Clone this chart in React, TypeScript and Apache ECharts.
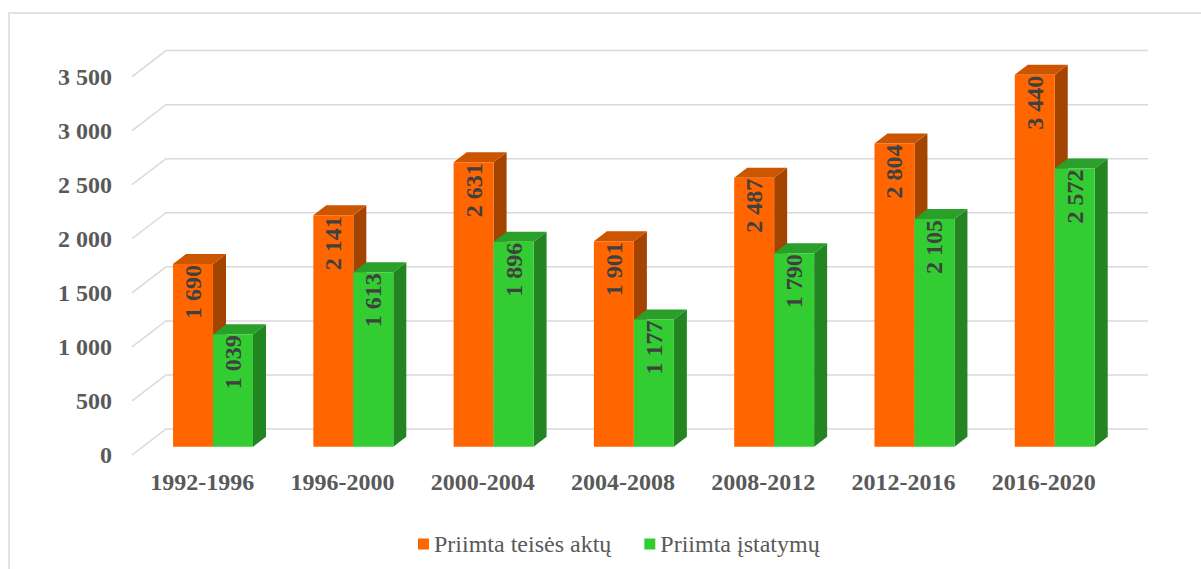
import React, { useEffect, useRef } from "react";
import * as echarts from "echarts";

const categories = ["1992-1996", "1996-2000", "2000-2004", "2004-2008", "2008-2012", "2012-2016", "2016-2020"];
const aktuValues = [1690, 2141, 2631, 1901, 2487, 2804, 3440];
const istatymuValues = [1039, 1613, 1896, 1177, 1790, 2105, 2572];
const yTicks = [0, 500, 1000, 1500, 2000, 2500, 3000, 3500];
const seriesNames = ["Priimta teisės aktų", "Priimta įstatymų"];

const WALL_DX = 34;
const WALL_DY = -26;
const BAR_T = 0.32;
const BAR_DX = 13;
const BAR_DY = -10;
const SERIF = "Times New Roman, Liberation Serif, Tinos, serif";

const fmt = (v: number) => String(v).replace(/\B(?=(\d{3})+(?!\d))/g, " ");

const palettes = [
  { front: "#FF6600", top: "#CC5500", side: "#A34500" },
  { front: "#33CC33", top: "#2A9F2A", side: "#228522" },
];

function makeBarRender(which: number) {
  return (params: any, api: any) => {
    const idx = api.value(0);
    const v = api.value(1);
    const base = api.coord([idx, 0]);
    const top = api.coord([idx, v]);
    const band = api.size([1, 0])[0];
    const bw = band * 0.285;
    const sx = WALL_DX * BAR_T;
    const sy = WALL_DY * BAR_T;
    const x0 = base[0] + sx + (which === 0 ? -bw : 0);
    const yb = base[1] + sy;
    const yt = top[1] + sy;
    const p = palettes[which];
    return {
      type: "group",
      children: [
        {
          type: "polygon",
          shape: { points: [[x0 + bw, yt], [x0 + bw + BAR_DX, yt + BAR_DY], [x0 + bw + BAR_DX, yb + BAR_DY], [x0 + bw, yb]] },
          style: { fill: p.side },
        },
        {
          type: "polygon",
          shape: { points: [[x0, yt], [x0 + BAR_DX, yt + BAR_DY], [x0 + bw + BAR_DX, yt + BAR_DY], [x0 + bw, yt]] },
          style: { fill: p.top },
        },
        {
          type: "rect",
          shape: { x: x0, y: yt, width: bw, height: yb - yt },
          style: { fill: p.front },
        },
        {
          type: "text",
          x: x0 + bw / 2,
          y: yt + 1,
          rotation: Math.PI / 2,
          style: {
            text: fmt(v),
            fill: "#404040",
            fontFamily: SERIF,
            fontWeight: "bold",
            fontSize: 24,
            align: "right",
            verticalAlign: "middle",
          },
        },
      ],
    };
  };
}

function gridRender(params: any, api: any) {
  const v = api.value(0);
  const cs = params.coordSys;
  const y = api.coord([0, v])[1];
  return {
    type: "polyline",
    shape: {
      points: [
        [cs.x, y],
        [cs.x + WALL_DX, y + WALL_DY],
        [cs.x + cs.width + WALL_DX, y + WALL_DY],
      ],
    },
    style: { stroke: "#D9D9D9", lineWidth: 1.5, fill: "none" },
  };
}

export default function App() {
  const ref = useRef<HTMLDivElement>(null);
  useEffect(() => {
    if (!ref.current) return;
    const chart = echarts.init(ref.current, null, { renderer: "svg" });
    chart.setOption({
      animation: false,
      backgroundColor: "#FFFFFF",
      textStyle: { fontFamily: SERIF },
      graphic: [
        {
          type: "rect",
          shape: { x: 9, y: 13, width: 1300, height: 700 },
          style: { fill: "none", stroke: "#D9D9D9", lineWidth: 1.5 },
          z: 0,
        },
      ],
      grid: { left: 132, right: 87, top: 76.6, bottom: 114 },
      xAxis: {
        type: "category",
        data: categories,
        axisLine: { show: false },
        axisTick: { show: false },
        axisLabel: { color: "#595959", fontFamily: SERIF, fontWeight: "bold", fontSize: 24, margin: 15 },
      },
      yAxis: {
        type: "value",
        min: 0,
        max: 3500,
        interval: 500,
        splitLine: { show: false },
        axisLine: { show: false },
        axisTick: { show: false },
        axisLabel: { color: "#595959", fontFamily: SERIF, fontWeight: "bold", fontSize: 24, margin: 20, formatter: (v: number) => fmt(v) },
      },
      legend: {
        data: seriesNames,
        bottom: 8,
        left: 413,
        icon: "rect",
        itemWidth: 11,
        itemHeight: 11,
        itemGap: 33,
        textStyle: { color: "#595959", fontFamily: SERIF, fontSize: 24 },
      },
      series: [
        {
          type: "custom",
          name: "grid",
          data: yTicks.map((t) => [t]),
          encode: { y: 0 },
          renderItem: gridRender,
          silent: true,
          z: 1,
        },
        {
          type: "custom",
          name: seriesNames[0],
          data: aktuValues.map((v, i) => [i, v]),
          encode: { x: 0, y: 1 },
          itemStyle: { color: palettes[0].front },
          renderItem: makeBarRender(0),
          z: 2,
        },
        {
          type: "custom",
          name: seriesNames[1],
          data: istatymuValues.map((v, i) => [i, v]),
          encode: { x: 0, y: 1 },
          itemStyle: { color: palettes[1].front },
          renderItem: makeBarRender(1),
          z: 3,
        },
      ],
    });
    return () => chart.dispose();
  }, []);
  return <div ref={ref} style={{ position: "absolute", left: 0, top: 0, width: 1201, height: 569 }} />;
}
